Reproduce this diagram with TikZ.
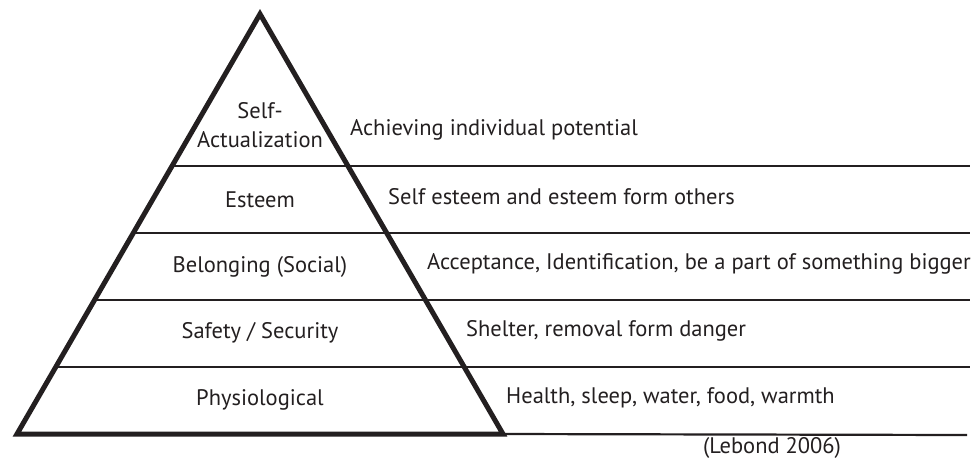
\documentclass[tikz,border=0pt]{standalone}
\usepackage{fontspec}
\setmainfont{PT Sans}
\definecolor{ink}{HTML}{231F20}
\begin{document}
\begin{tikzpicture}[x=1pt,y=-1pt,
  thinline/.style={draw=ink,line width=2.2pt},
  thickline/.style={draw=ink,line width=5pt,line join=miter},
  lvl/.style={text=ink,font=\fontsize{22.5}{29}\selectfont,align=center,inner sep=0pt},
  desc/.style={text=ink,font=\fontsize{22.5}{25}\selectfont,anchor=west,inner sep=0pt}]
\useasboundingbox (0,0) rectangle (977,459);
% geometry
\coordinate (apex) at (260,14);
\coordinate (bl) at (17,434);
\coordinate (br) at (503,434);
\foreach \i/\y in {1/166,2/233,3/300,4/367}{
  \coordinate (l\i) at ({260-(\y-14)/420*243},\y);
  \coordinate (r\i) at (970,\y);
}
\coordinate (rb) at (967,435);
% separator lines
\foreach \i in {1,2,3,4}{ \draw[thinline] (l\i) -- (r\i); }
\draw[thinline] (br) -- (rb);
% pyramid
\draw[thickline] (apex) -- (br) -- (bl) -- cycle;
% level labels
\node[lvl] (sa) at (260,125) {Self-\\Actualization};
\node[lvl] (es) at (260,200) {Esteem};
\node[lvl] (be) at (260,267) {Belonging (Social)};
\node[lvl] (sf) at (260,333) {Safety / Security};
\node[lvl] (ph) at (260,400) {Physiological};
% descriptions
\node[desc] (d1) at (350,130) {Achieving individual potential};
\node[desc] (d2) at (388,197) {Self esteem and esteem form others};
\node[desc] (d3) at (427,264) {Acceptance, Identification, be a part of something bigger};
\node[desc] (d4) at (466,331) {Shelter, removal form danger};
\node[desc] (d5) at (506,398) {Health, sleep, water, food, warmth};
\node[lvl] (src) at (772,448) {(Lebond 2006)};
\end{tikzpicture}
\end{document}
